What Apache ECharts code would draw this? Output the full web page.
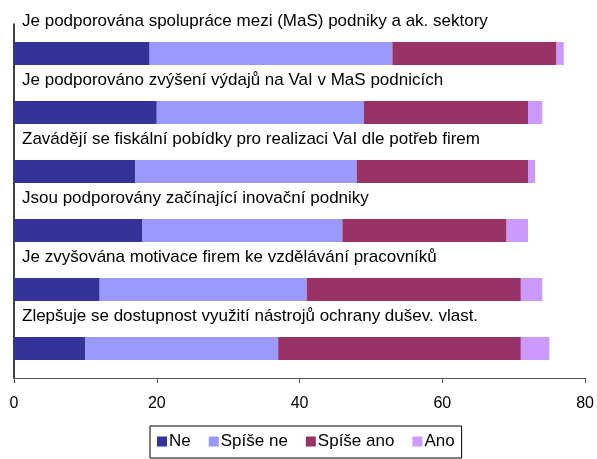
<!DOCTYPE html>
<html>
<head>
<meta charset="utf-8">
<script src="https://cdn.jsdelivr.net/npm/echarts@6/dist/echarts.min.js"></script>
<style>
  html, body { margin: 0; padding: 0; background: #fff; }
  #main { width: 597px; height: 459px; }
</style>
</head>
<body>
<div id="main"></div>
<script>
// kategorie (odshora dolů)
var categories = [
    "Je podporována spolupráce mezi (MaS) podniky a ak. sektory",
    "Je podporováno zvýšení výdajů na VaI v MaS podnicích",
    "Zavádějí se fiskální pobídky pro realizaci VaI dle potřeb firem",
    "Jsou podporovány začínající inovační podniky",
    "Je zvyšována motivace firem ke vzdělávání pracovníků",
    "Zlepšuje se dostupnost využití nástrojů ochrany dušev. vlast."
];
var ne       = [19, 20, 17, 18, 12, 10];
var spiseNe  = [34, 29, 31, 28, 29, 27];
var spiseAno = [23, 23, 24, 23, 30, 34];
var ano      = [1, 2, 1, 3, 3, 4];
var xTicks   = [0, 20, 40, 60, 80];
var legendNames = ['Ne', 'Spíše ne', 'Spíše ano', 'Ano'];

var font = "'Liberation Sans', Arial, sans-serif";
var chart = echarts.init(document.getElementById('main'));

function bar(name, data, color) {
    return {
        name: name,
        type: 'bar',
        stack: 'total',
        data: data,
        barWidth: 23,
        itemStyle: { color: color },
        emphasis: { disabled: true }
    };
}

var sNe = bar('Ne', ne, '#333399');
// popisek kategorie nad pruhem
sNe.label = {
    show: true,
    position: [8, -29],
    align: 'left',
    verticalAlign: 'top',
    fontFamily: font,
    fontSize: 17,
    color: '#000',
    formatter: function (p) { return categories[p.dataIndex]; }
};

var option = {
    animation: false,
    textStyle: { fontFamily: font },
    grid: { left: 14, right: 9, top: 24, bottom: 81 },
    xAxis: {
        type: 'value',
        min: xTicks[0],
        max: xTicks[xTicks.length - 1],
        interval: 20,
        axisLine: { show: true, lineStyle: { color: '#555', width: 1 } },
        axisTick: { show: true, length: 5, lineStyle: { color: '#555' } },
        axisLabel: { fontSize: 16, color: '#000', margin: 18, fontFamily: font },
        splitLine: { show: false }
    },
    yAxis: {
        type: 'category',
        inverse: true,
        data: categories,
        axisLine: { show: true, lineStyle: { color: '#000', width: 1.5 } },
        axisTick: { show: false },
        axisLabel: { show: false }
    },
    legend: {
        left: 150,
        top: 426,
        orient: 'horizontal',
        itemWidth: 10,
        itemHeight: 10,
        itemGap: 18,
        padding: [7, 7, 8, 7],
        borderColor: '#000',
        borderWidth: 1,
        borderRadius: 0,
        icon: 'rect',
        textStyle: { fontSize: 17, color: '#000', fontFamily: font, padding: [0, 0, 0, -3] },
        data: legendNames
    },
    series: [
        sNe,
        bar(legendNames[1], spiseNe, '#9999FF'),
        bar(legendNames[2], spiseAno, '#993366'),
        bar(legendNames[3], ano, '#CC99FF')
    ]
};
chart.setOption(option);
</script>
</body>
</html>
